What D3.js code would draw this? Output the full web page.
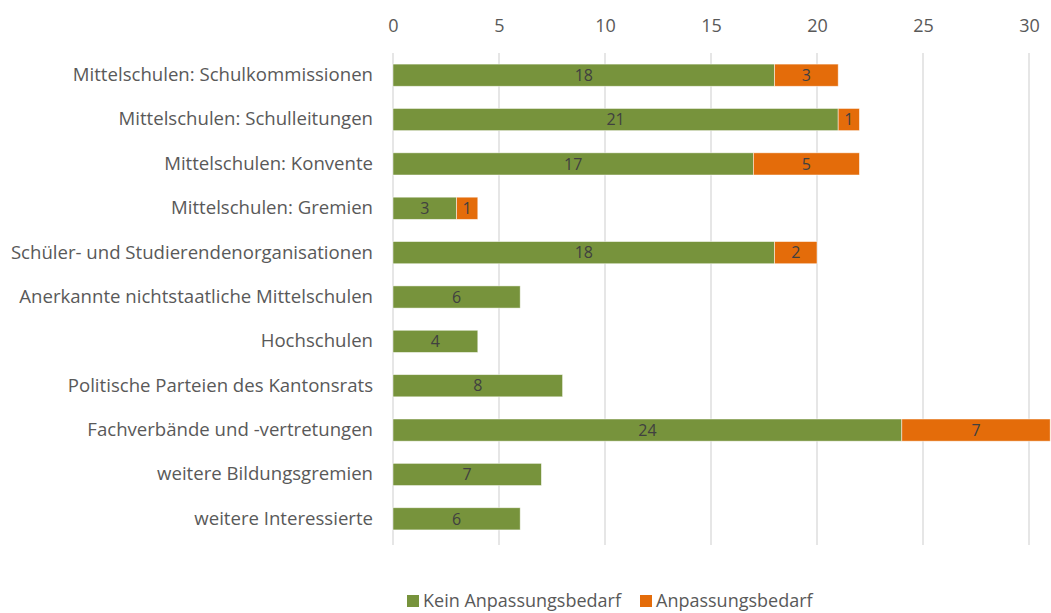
<!DOCTYPE html>
<html>
<head>
<meta charset="utf-8">
<script src="https://cdn.jsdelivr.net/npm/d3@7"></script>
<style>
  body { margin: 0; background: #fff; }
  svg { display: block; font-family: "Open Sans", Lato, sans-serif; }
</style>
</head>
<body>
<svg id="chart" width="1051" height="613"></svg>
<script>
// Stellungnahmen nach Gruppe
const categories = [
  "Mittelschulen: Schulkommissionen",
  "Mittelschulen: Schulleitungen",
  "Mittelschulen: Konvente",
  "Mittelschulen: Gremien",
  "Schüler- und Studierendenorganisationen",
  "Anerkannte nichtstaatliche Mittelschulen",
  "Hochschulen",
  "Politische Parteien des Kantonsrats",
  "Fachverbände und -vertretungen",
  "weitere Bildungsgremien",
  "weitere Interessierte"
];
const keinBedarf = [18, 21, 17, 3, 18, 6, 4, 8, 24, 7, 6];
const bedarf     = [3, 1, 5, 1, 2, 0, 0, 0, 7, 0, 0];
const seriesNames = ["Kein Anpassungsbedarf", "Anpassungsbedarf"];
const seriesColors = ["#77933C", "#E46C0A"];
const xTicks = [0, 5, 10, 15, 20, 25, 30];

const svg = d3.select("#chart");
const plot = { left: 393, right: 1029, top: 53, bottom: 541 };
const font = "'Open Sans', Lato, sans-serif";

const x = d3.scaleLinear().domain([0, 30]).range([plot.left, plot.right]);
const y = d3.scaleBand().domain(categories).range([plot.top, plot.bottom])
  .paddingInner(0.5).paddingOuter(0.25);

// vertical gridlines
svg.append("g").selectAll("line").data(xTicks).join("line")
  .attr("x1", d => x(d)).attr("x2", d => x(d))
  .attr("y1", plot.top).attr("y2", plot.bottom + 4)
  .attr("stroke", "#d9d9d9").attr("stroke-width", 1.3);

// top axis tick labels
const xAxis = d3.axisTop(x).tickValues(xTicks).tickSize(0).tickPadding(0);
const gx = svg.append("g").attr("transform", "translate(0,32)").call(xAxis);
gx.select(".domain").remove();
gx.selectAll("text").attr("fill", "#595959").style("font-size", "18px")
  .style("font-family", font);

// category labels
const yAxis = d3.axisLeft(y).tickSize(0).tickPadding(20);
const gy = svg.append("g").attr("transform", `translate(${plot.left},0)`).call(yAxis);
gy.select(".domain").remove();
gy.selectAll("text").attr("fill", "#595959").style("font-size", "18.6px")
  .style("font-family", font);

// stacked bars
const rows = categories.map((c, i) => ({ cat: c, kein: keinBedarf[i], bedarf: bedarf[i] }));
const stack = d3.stack().keys(["kein", "bedarf"])(rows);

const layers = svg.append("g").selectAll("g").data(stack).join("g")
  .attr("fill", (d, i) => seriesColors[i]);

layers.selectAll("rect").data(d => d.filter(s => s[1] - s[0] > 0)).join("rect")
  .attr("x", d => x(d[0]))
  .attr("y", d => y(d.data.cat))
  .attr("width", d => x(d[1]) - x(d[0]))
  .attr("height", y.bandwidth())
  .attr("stroke", "#ffffff").attr("stroke-opacity", 0.6).attr("stroke-width", 0.8);

// value labels
layers.selectAll("text").data(d => d.filter(s => s[1] - s[0] > 0)).join("text")
  .attr("x", d => (x(d[0]) + x(d[1])) / 2)
  .attr("y", d => y(d.data.cat) + y.bandwidth() / 2)
  .attr("dy", "0.36em")
  .attr("text-anchor", "middle")
  .attr("fill", "#404040")
  .style("font-size", "16px")
  .text(d => d[1] - d[0]);

// legend
const legend = svg.append("g").attr("transform", "translate(407,601)");
const legendX = [0, 233];
seriesNames.forEach((name, i) => {
  const g = legend.append("g").attr("transform", `translate(${legendX[i]},0)`);
  g.append("rect").attr("x", 0).attr("y", -6).attr("width", 12).attr("height", 12)
    .attr("fill", seriesColors[i]);
  g.append("text").attr("x", 16).attr("y", 0).attr("dy", "0.36em")
    .attr("fill", "#595959").style("font-size", "18px").text(name);
});
</script>
</body>
</html>
